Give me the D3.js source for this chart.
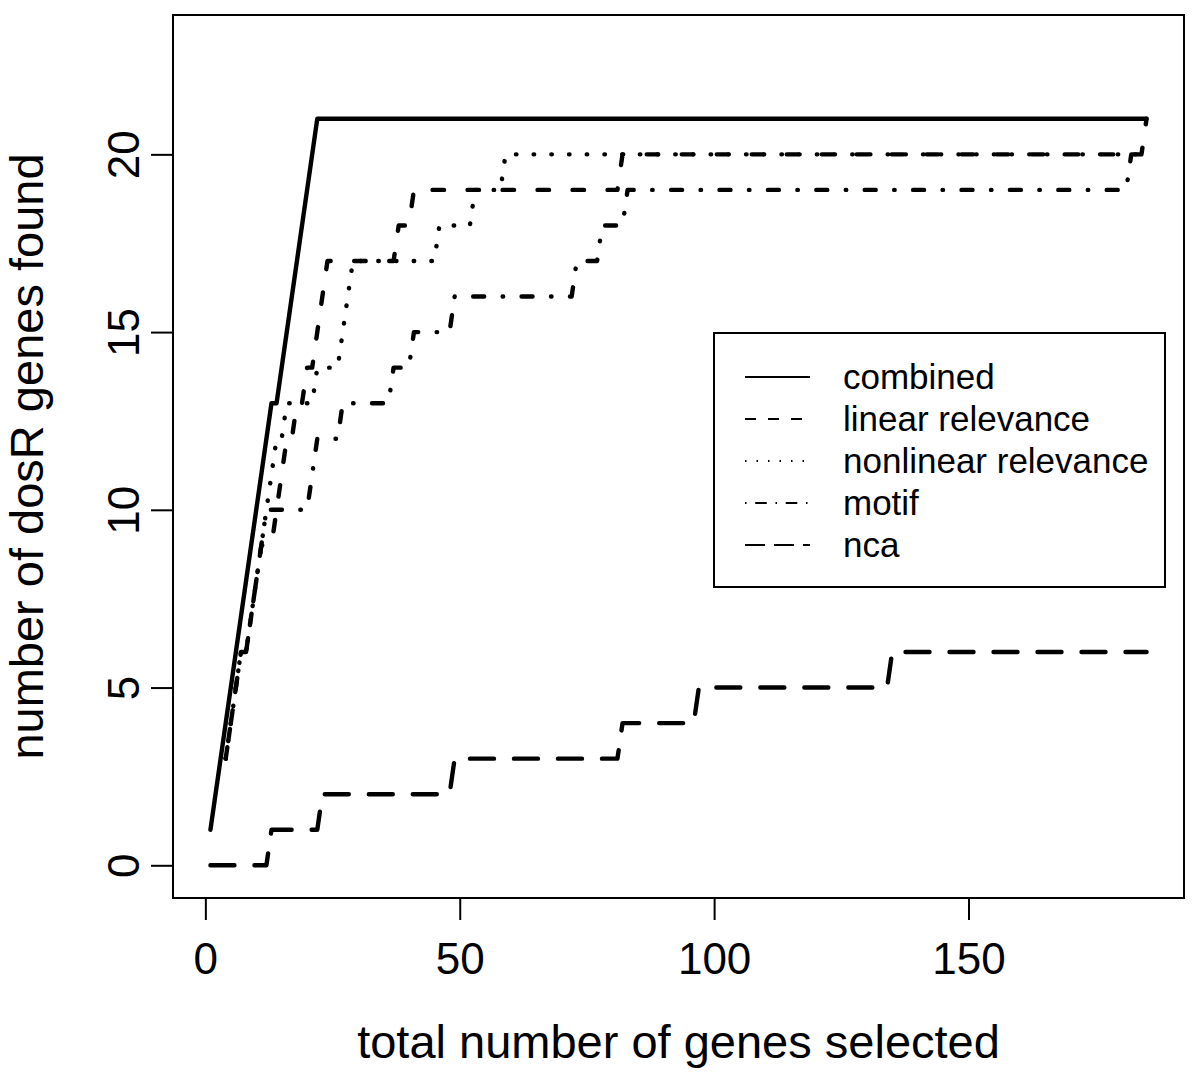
<!DOCTYPE html>
<html>
<head>
<meta charset="utf-8">
<script src="https://cdn.jsdelivr.net/npm/d3@7"></script>
<style>
  html, body { margin: 0; padding: 0; background: #fff; }
  svg { display: block; font-family: "Liberation Sans", Arial, Helvetica, sans-serif; }
</style>
</head>
<body>
<svg id="chart" width="1200" height="1091"></svg>
<script>
// ---- data (x = total number of genes selected, y = number of dosR genes found) ----
const seriesNames = ["combined", "linear relevance", "nonlinear relevance", "motif", "nca"];
const combined = [[1,1],[13,13],[14,13],[22,21],[185,21]];
const linearRelevance = [[4,3],[7,6],[8,6],[11,9],[13,9],[16,12],[17,12],[18,13],[19,13],[20,14],[21,14],[24,17],[37,17],[38,18],[40,18],[41,19],[81,19],[82,20],[184,20],[185,21]];
const nonlinearRelevance = [[4,3],[7,6],[8,6],[14,12],[15,12],[16,13],[21,13],[22,14],[26,14],[29,17],[45,17],[46,18],[52,18],[53,19],[58,19],[59,20],[185,20]];
const motif = [[4,3],[7,6],[8,6],[12,10],[20,10],[22,12],[26,12],[27,13],[36,13],[37,14],[40,14],[41,15],[48,15],[49,16],[72,16],[73,17],[77,17],[78,18],[82,18],[83,19],[181,19],[182,20],[185,20]];
const nca = [[1,0],[12,0],[13,1],[22,1],[23,2],[48,2],[49,3],[81,3],[82,4],[96,4],[97,5],[134,5],[135,6],[185,6]];
const xTicks = [0, 50, 100, 150];
const yTicks = [0, 5, 10, 15, 20];
const xLabel = "total number of genes selected";
const yLabel = "number of dosR genes found";

// ---- layout ----
const svg = d3.select("#chart");
const box = { left: 173, right: 1184, top: 15, bottom: 898 };
const xr = [1, 185], yr = [0, 23];
const xpad = (xr[1] - xr[0]) * 0.04, ypad = (yr[1] - yr[0]) * 0.04;
const x = d3.scaleLinear().domain([xr[0] - xpad, xr[1] + xpad]).range([box.left, box.right]);
const y = d3.scaleLinear().domain([yr[0] - ypad, yr[1] + ypad]).range([box.bottom, box.top]);

const styles = [
  { data: combined,           dash: null,                  legendDash: null },
  { data: linearRelevance,    dash: "11.5 23.5",           legendDash: "11 12" },
  { data: nonlinearRelevance, dash: "0.5 17.2",            legendDash: "1.5 10" },
  { data: motif,              dash: "0.5 18.45 11 18.45",  legendDash: "1.5 8.7 11.6 8.7" },
  { data: nca,                dash: "24 20",               legendDash: "20 9" }
];

const line = d3.line().x(d => x(d[0])).y(d => y(d[1]));

// series
styles.forEach(s => {
  svg.append("path")
    .attr("d", line(s.data))
    .attr("fill", "none")
    .attr("stroke", "#000")
    .attr("stroke-width", 4.4)
    .attr("stroke-linecap", "round")
    .attr("stroke-linejoin", "round")
    .attr("stroke-dasharray", s.dash);
});

// frame
svg.append("rect")
  .attr("x", box.left).attr("y", box.top)
  .attr("width", box.right - box.left).attr("height", box.bottom - box.top)
  .attr("fill", "none").attr("stroke", "#000").attr("stroke-width", 2);

// x axis
const fs = 44, fsTitle = 47;
const xAxis = svg.append("g").attr("transform", `translate(0,${box.bottom})`)
  .call(d3.axisBottom(x).tickValues(xTicks).tickSize(22).tickPadding(23).tickFormat(d3.format("d")));
xAxis.select(".domain").remove();
xAxis.selectAll("line").attr("stroke", "#000").attr("stroke-width", 2);
xAxis.selectAll("text").attr("font-size", fs).attr("fill", "#000").attr("font-family", "Liberation Sans, Arial, sans-serif");
xAxis.append("line").attr("x1", x(xTicks[0])).attr("x2", x(xTicks[xTicks.length - 1]))
  .attr("y1", 0).attr("y2", 0).attr("stroke", "#000").attr("stroke-width", 2);

// y axis
const yAxis = svg.append("g").attr("transform", `translate(${box.left},0)`)
  .call(d3.axisLeft(y).tickValues(yTicks).tickSize(22).tickFormat(d3.format("d")));
yAxis.select(".domain").remove();
yAxis.selectAll("line").attr("stroke", "#000").attr("stroke-width", 2);
yAxis.selectAll("text")
  .attr("x", null).attr("dy", null)
  .attr("transform", "translate(-34,0) rotate(-90)")
  .attr("text-anchor", "middle")
  .attr("font-size", fs).attr("fill", "#000").attr("font-family", "Liberation Sans, Arial, sans-serif");
yAxis.append("line").attr("x1", 0).attr("x2", 0)
  .attr("y1", y(yTicks[0])).attr("y2", y(yTicks[yTicks.length - 1])).attr("stroke", "#000").attr("stroke-width", 2);

// axis titles
svg.append("text")
  .attr("x", (box.left + box.right) / 2).attr("y", 1058)
  .attr("text-anchor", "middle").attr("font-size", fsTitle).text(xLabel);
svg.append("text")
  .attr("transform", `translate(43,${(box.top + box.bottom) / 2}) rotate(-90)`)
  .attr("text-anchor", "middle").attr("font-size", fsTitle).text(yLabel);

// legend
const lg = { x0: 714, y0: 333, x1: 1165, y1: 587 };
svg.append("rect").attr("x", lg.x0).attr("y", lg.y0)
  .attr("width", lg.x1 - lg.x0).attr("height", lg.y1 - lg.y0)
  .attr("fill", "#fff").attr("stroke", "#000").attr("stroke-width", 2);
const rowY = d3.scalePoint().domain(seriesNames).range([377, 545]);
seriesNames.forEach((name, i) => {
  const yy = rowY(name);
  svg.append("line").attr("x1", 745).attr("x2", 810).attr("y1", yy).attr("y2", yy)
    .attr("stroke", "#000").attr("stroke-width", 2)
    .attr("stroke-dasharray", styles[i].legendDash);
  svg.append("text").attr("x", 843).attr("y", yy + 12).attr("font-size", 35).text(name);
});
</script>
</body>
</html>
